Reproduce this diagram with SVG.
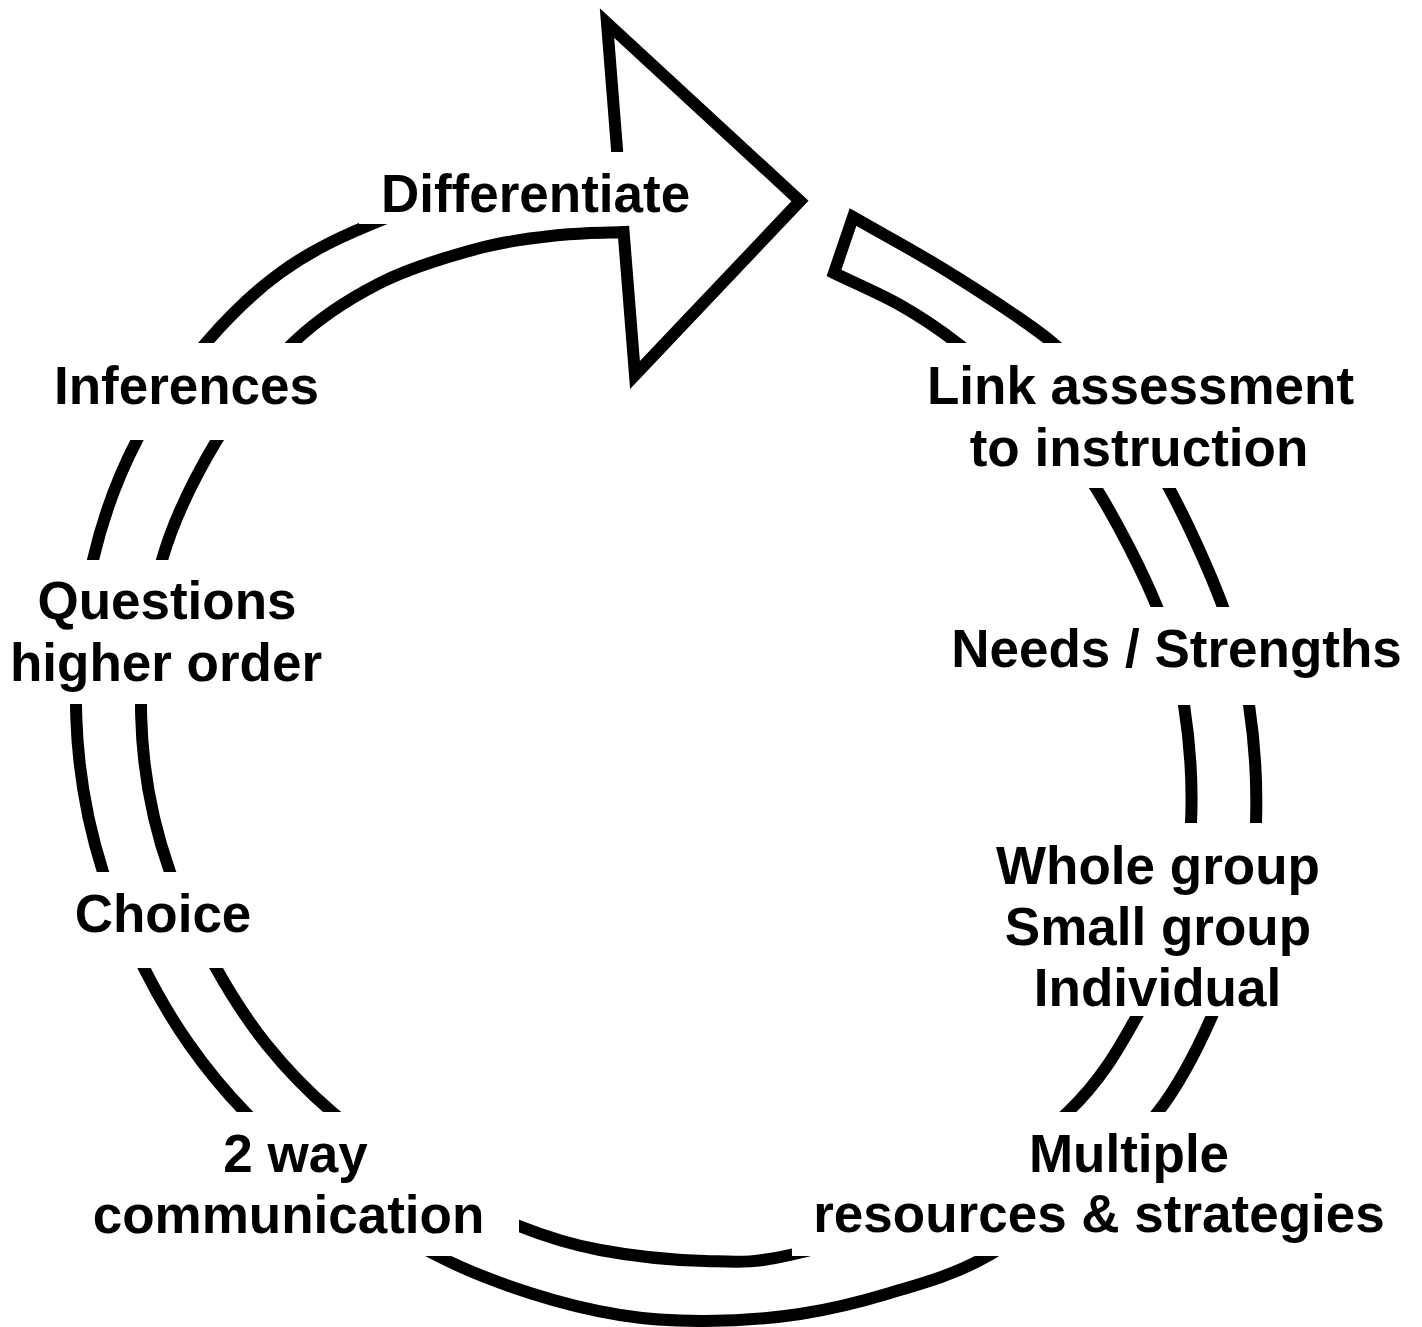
<svg xmlns="http://www.w3.org/2000/svg" width="1422" height="1327" viewBox="0 0 1422 1327">
<style>
.ring{fill:#fff;stroke:#000;stroke-width:12;stroke-linejoin:miter;stroke-miterlimit:10}
.bg{fill:#fff;stroke:none}
.lbl{font-family:"Liberation Sans",Arial,sans-serif;font-weight:bold;font-size:53px;fill:#000;text-anchor:middle}
</style>
<rect width="1422" height="1327" fill="#fff"/>
<g id="connectors">
<path class="ring" d="M834,273
C856,283.67 879.5,293.33 900,305
C920.5,316.67 934.67,325.67 957,343
C979.33,360.33 1010.83,384.83 1034,409
C1057.17,433.17 1075.5,455 1096,488
C1116.5,521 1142.33,570.83 1157,607
C1171.67,643.17 1178.33,669 1184,705
C1189.67,741 1192.67,786.83 1191,823
C1189.33,859.17 1183,889.83 1174,922
C1165,954.17 1154.67,984.33 1137,1016
C1119.33,1047.67 1101.67,1080 1068,1112
C1034.33,1144 981.33,1184.17 935,1208
C888.67,1231.83 828.33,1246.17 790,1255
C751.67,1263.83 736.67,1261.83 705,1261
C673.33,1260.17 631,1255.83 600,1250
C569,1244.17 548.17,1237.67 519,1226
C489.83,1214.33 456.17,1199 425,1180
C393.83,1161 358.33,1134.5 332,1112
C305.67,1089.5 286.33,1069 267,1045
C247.67,1021 232.17,996.83 216,968
C199.83,939.17 181.17,901.83 170,872
A502.8,502.8 0 0 1 162,560
C174.67,516 195.17,476.17 217,440
C238.83,403.83 265.83,369.17 293,343
C320.17,316.83 348.83,298.83 380,283
C411.17,267.17 450,256 480,248
C510,240 536.07,237.67 560,235
C583.93,232.33 602.4,233 623.6,232
L635,375 L800,201 L607,23 L618.5,168
C575.67,173.67 531.92,175.33 490,185
C448.08,194.67 402,211.33 367,226
C332,240.67 306.83,253.5 280,273
C253.17,292.5 229.83,315.17 206,343
C182.17,370.83 155.83,403.83 137,440
C118.17,476.17 103.17,516 93,560
A571,571 0 0 0 103,872
C113.07,901.83 129.67,939.33 144,968
C158.33,996.67 172.17,1020 189,1044
C205.83,1068 220.67,1086.92 245,1112
C269.33,1137.08 302.5,1170.33 335,1194.5
C367.5,1218.67 407.5,1240.58 440,1257
C472.5,1273.42 500,1283.33 530,1293
C560,1302.67 590.83,1310.33 620,1315
C649.17,1319.67 675,1321.17 705,1321
C735,1320.83 769.17,1318.67 800,1314
C830.83,1309.33 859.67,1302.17 890,1293
C920.33,1283.83 951,1275.83 982,1259
C1013,1242.17 1046.67,1216.5 1076,1192
C1105.33,1167.5 1135.33,1141.33 1158,1112
C1180.67,1082.67 1198,1047.83 1212,1016
C1226,984.17 1234.67,953.17 1242,921
C1249.33,888.83 1254.83,859 1256,823
C1257.17,787 1254.5,741 1249,705
C1243.5,669 1236.33,643.17 1223,607
C1209.67,570.83 1186.67,520.67 1169,488
C1151.33,455.33 1136.33,435.17 1117,411
C1097.67,386.83 1080.83,366 1053,343
C1025.17,320 983.33,294 950,273
C916.67,252 885.33,235.67 853,217
Z"/>
</g>
<g id="node-differentiate">
<rect class="bg" x="359" y="152" width="346" height="72"/>
<text class="lbl" x="535.5" y="212">Differentiate</text>
</g>
<g id="node-inferences">
<rect class="bg" x="45" y="343" width="285" height="97"/>
<text class="lbl" x="186.5" y="404">Inferences</text>
</g>
<g id="node-questions">
<rect class="bg" x="5" y="560" width="325" height="144"/>
<text class="lbl" x="167" y="619">Questions</text>
<text class="lbl" x="166" y="681">higher order</text>
</g>
<g id="node-choice">
<rect class="bg" x="65" y="872" width="195" height="96"/>
<text class="lbl" x="163" y="932">Choice</text>
</g>
<g id="node-communication">
<rect class="bg" x="85" y="1112" width="434" height="144"/>
<text class="lbl" x="295.5" y="1172">2 way</text>
<text class="lbl" x="288.5" y="1233">communication</text>
</g>
<g id="node-link">
<rect class="bg" x="920" y="343" width="440" height="145"/>
<text class="lbl" x="1140.5" y="404">Link assessment</text>
<text class="lbl" x="1139" y="466">to instruction</text>
</g>
<g id="node-needs">
<rect class="bg" x="945" y="607" width="460" height="98"/>
<text class="lbl" x="1176.5" y="667">Needs / Strengths</text>
</g>
<g id="node-groups">
<rect class="bg" x="990" y="823" width="335" height="193"/>
<text class="lbl" x="1158" y="884">Whole group</text>
<text class="lbl" x="1158" y="945">Small group</text>
<text class="lbl" x="1157.5" y="1006">Individual</text>
</g>
<g id="node-multiple">
<rect class="bg" x="792" y="1112" width="598" height="144"/>
<text class="lbl" x="1129" y="1172">Multiple</text>
<text class="lbl" x="1099" y="1232">resources &amp; strategies</text>
</g>
</svg>
